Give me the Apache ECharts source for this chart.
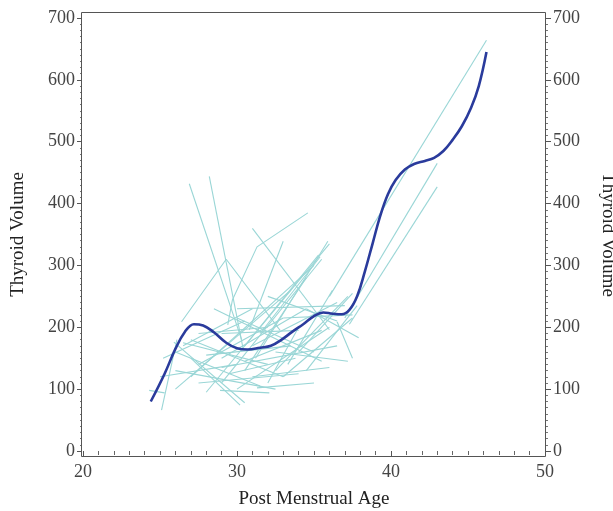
<!DOCTYPE html>
<html>
<head>
<meta charset="utf-8">
<script src="https://cdn.jsdelivr.net/npm/echarts@6/dist/echarts.min.js"></script>
<style>
  html, body { margin: 0; padding: 0; background: #fff; }
  #chart { width: 613px; height: 511px; }
</style>
</head>
<body>
<div id="chart"></div>
<script>
// Individual subject trajectories: [age, volume] pairs
const subjects = [
  [[26.9, 432], [30.3, 180]],
  [[28.2, 444], [30.4, 165]],
  [[26.4, 209], [29.3, 310], [32.8, 195]],
  [[29.4, 204], [29.7, 244], [31.3, 330], [34.6, 385]],
  [[31.0, 360], [36.0, 196]],
  [[30.8, 196], [33.0, 339]],
  [[31.2, 150], [35.9, 339]],
  [[30.5, 170], [35.3, 317]],
  [[31.5, 190], [35.4, 314]],
  [[26.0, 100], [33.5, 260]],
  [[27.0, 120], [35.0, 300]],
  [[28.0, 95], [36.0, 335]],
  [[29.0, 110], [35.5, 310]],
  [[30.5, 130], [34.5, 280]],
  [[33.3, 140], [36.2, 260]],
  [[32.5, 130], [37.2, 250]],
  [[34.0, 160], [37.5, 255]],
  [[26.5, 170], [31.0, 230]],
  [[25.2, 150], [30.5, 210]],
  [[27.5, 140], [33.0, 215]],
  [[29.0, 150], [34.5, 230]],
  [[31.0, 170], [36.5, 240]],
  [[33.0, 120], [37.5, 215]],
  [[34.5, 130], [37.8, 235]],
  [[30.0, 100], [36.0, 200]],
  [[30.2, 74], [27.0, 150]],
  [[25.9, 176], [30.5, 78]],
  [[26.0, 160], [31.5, 105]],
  [[27.0, 180], [33.0, 120]],
  [[28.5, 230], [35.5, 145]],
  [[32.0, 250], [36.5, 210]],
  [[34.5, 230], [37.9, 183]],
  [[36.5, 209], [37.5, 150]],
  [[30.0, 215], [35.0, 160]],
  [[26.5, 175], [32.0, 140]],
  [[28.9, 98], [32.1, 94]],
  [[31.3, 102], [35.0, 110]],
  [[24.3, 98], [25.3, 94]],
  [[25.1, 66], [26.1, 180]],
  [[29.0, 190], [34.0, 195]],
  [[30.0, 230], [37.0, 235]],
  [[27.5, 190], [32.0, 200]],
  [[33.0, 215], [37.5, 220]],
  [[28.0, 155], [33.5, 170]],
  [[31.0, 120], [36.0, 135]],
  [[32.0, 110], [34.0, 200]],
  [[29.5, 125], [33.8, 150]],
  [[25.0, 120], [30.0, 140]],
  [[26.0, 130], [32.5, 100]],
  [[27.5, 110], [34.0, 125]],
  [[29.0, 135], [36.5, 170]],
  [[32.5, 160], [37.2, 145]],
  [[30.5, 145], [35.5, 195]],
  [[36.0, 250], [46.2, 664]],
  [[37.0, 215], [43.0, 465]],
  [[37.3, 205], [43.0, 427]],
];

// Smoothed mean curve
const meanAge = [24.4, 25.3, 26.0, 26.6, 27.2, 27.8, 28.5, 29.3, 30.0, 30.7, 31.5, 32.2,
  32.9, 33.6, 34.3, 35.0, 35.6, 36.2, 36.8, 37.3, 37.8, 38.3, 38.8, 39.3, 39.8, 40.3,
  40.9, 41.5, 42.2, 42.8, 43.4, 44.0, 44.6, 45.2, 45.7, 46.2];
const meanVolume = [80, 125, 165, 192, 205, 203, 192, 175, 166, 164, 167, 170,
  180, 193, 205, 218, 224, 222, 221, 228, 250, 290, 335, 380, 415, 438,
  455, 464, 469, 474, 485, 503, 525, 555, 590, 645];

const xTicks = [20, 30, 40, 50];
const yTicks = [0, 100, 200, 300, 400, 500, 600, 700];

const font = "'Liberation Serif', 'DejaVu Serif', serif";
const labelStyle = { color: "#444", fontSize: 18, fontFamily: font };
const nameStyle = { color: "#222", fontSize: 19, fontFamily: font };

const chartDom = document.getElementById("chart");
const myChart = echarts.init(chartDom);

const series = subjects.map((pts) => ({
  type: "line",
  data: pts,
  symbol: "none",
  silent: true,
  lineStyle: { color: "#9ad6d6", width: 1.1 },
  z: 2,
}));
series.push({
  type: "line",
  data: meanAge.map((a, i) => [a, meanVolume[i]]),
  smooth: 0.4,
  symbol: "none",
  lineStyle: { color: "#2a3b9c", width: 2.6 },
  z: 5,
});

function yAxis(pos, offset) {
  return {
    type: "value",
    position: pos,
    offset: offset,
    min: yTicks[0],
    max: yTicks[yTicks.length - 1],
    interval: 100,
    name: "Thyroid Volume",
    nameLocation: "middle",
    nameGap: pos === "left" ? 54 : 52,
    nameRotate: pos === "left" ? 90 : -90,
    nameTextStyle: nameStyle,
    axisLine: { show: false },
    axisTick: { show: true, inside: false, length: 5, lineStyle: { color: "#555" } },
    minorTick: { show: true, splitNumber: 10, length: 2, lineStyle: { color: "#777" } },
    axisLabel: { ...labelStyle, margin: 7 },
    splitLine: { show: false },
  };
}

const option = {
  animation: false,
  grid: { left: 83, right: 68, top: 18, bottom: 60, outerBoundsMode: "none" },
  graphic: [
    {
      type: "rect",
      shape: { x: 81.5, y: 12.5, width: 464, height: 444 },
      style: { fill: "none", stroke: "#555", lineWidth: 1 },
      silent: true,
      z: 10,
    },
  ],
  xAxis: {
    type: "value",
    min: xTicks[0],
    max: xTicks[xTicks.length - 1],
    interval: 10,
    offset: 6,
    name: "Post Menstrual Age",
    nameLocation: "middle",
    nameGap: 33,
    nameTextStyle: nameStyle,
    axisLine: { show: false },
    axisTick: { show: true, length: 5, lineStyle: { color: "#555" } },
    minorTick: { show: true, splitNumber: 10, length: 4, lineStyle: { color: "#666" } },
    axisLabel: { ...labelStyle, margin: 6 },
    splitLine: { show: false },
  },
  yAxis: [yAxis("left", 1), yAxis("right", 1)],
  series: series,
};
myChart.setOption(option);
</script>
</body>
</html>
